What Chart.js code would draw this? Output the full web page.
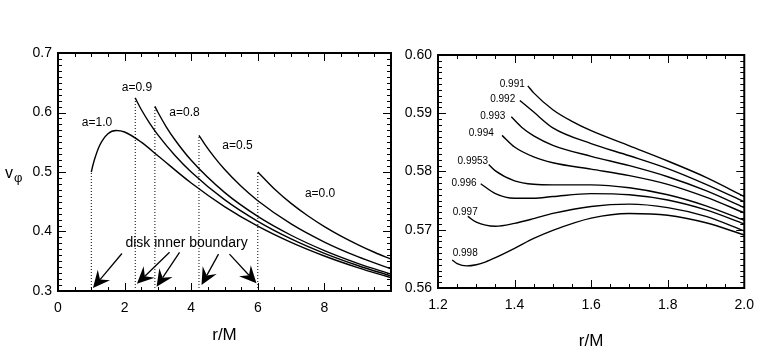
<!DOCTYPE html>
<html>
<head>
<meta charset="utf-8">
<title>v_phi vs r/M</title>
<script src="https://cdn.jsdelivr.net/npm/chart.js@4.4.0/dist/chart.umd.min.js"></script>
<style>
  body { margin: 0; background: #fff; }
  #wrap { position: relative; width: 763px; height: 355px; }
  #left { position: absolute; left: 0; top: 0; }
  #right { position: absolute; left: 380px; top: 0; }
</style>
</head>
<body>
<div id="wrap">
  <canvas id="left" width="400" height="355"></canvas>
  <canvas id="right" width="383" height="355"></canvas>
</div>

<script>
// ---- left panel: v_phi against r/M, one curve per spin, starting at the disk inner edge
var rA10 = [1, 1.02, 1.05, 1.1, 1.25, 1.5, 1.75, 2, 2.5, 3, 4, 5, 6, 7, 8, 9, 10];
var vA10 = [0.5, 0.5049, 0.5117, 0.5218, 0.5446, 0.5643, 0.5698, 0.5672, 0.5502, 0.5274, 0.4815, 0.4419, 0.4090, 0.3817, 0.3588, 0.3393, 0.3225];
var rA09 = [2.32, 2.4, 2.5, 2.75, 3, 3.5, 4, 5, 6, 7, 8, 9, 10];
var vA09 = [0.6246, 0.6155, 0.6050, 0.5822, 0.5624, 0.5287, 0.5001, 0.4535, 0.4171, 0.3876, 0.3633, 0.3429, 0.3253];
var rA08 = [2.91, 3, 3.25, 3.5, 4, 5, 6, 7, 8, 9, 10];
var vA08 = [0.6103, 0.6004, 0.5760, 0.5550, 0.5196, 0.4657, 0.4254, 0.3937, 0.3679, 0.3465, 0.3283];
var rA05 = [4.233, 4.4, 4.7, 5, 5.5, 6, 7, 8, 9, 10];
var vA05 = [0.5617, 0.5474, 0.5246, 0.5045, 0.4759, 0.4517, 0.4127, 0.3823, 0.3578, 0.3374];
var rA00 = [6, 6.5, 7, 7.5, 8, 8.5, 9, 9.5, 10];
var vA00 = [0.5, 0.4714, 0.4472, 0.4264, 0.4082, 0.3922, 0.3780, 0.3651, 0.3536];

var leftLabels = ['a=1.0', 'a=0.9', 'a=0.8', 'a=0.5', 'a=0.0'];
var leftLabelR = [1.17, 2.37, 3.80, 5.39, 7.87];
var leftLabelV = [0.583, 0.642, 0.600, 0.545, 0.463];

// dotted markers at the inner boundaries
var edgeR = [1, 2.32, 2.91, 4.233, 6];
var edgeV = [0.5, 0.6246, 0.6103, 0.5617, 0.5];

// arrows from the "disk inner boundary" note
var arrowTailR = [1.92, 3.35, 3.65, 4.82, 5.15];
var arrowTailV = [0.363, 0.365, 0.365, 0.362, 0.362];
var arrowHeadR = [1.05, 2.37, 2.96, 4.31, 5.96];
var arrowHeadV = [0.305, 0.312, 0.307, 0.310, 0.313];
var noteText = 'disk inner boundary';
var noteR = 3.86, noteV = 0.380;

// ---- right panel: near-extreme spins
var r991 = [1.4346, 1.45, 1.5, 1.55, 1.6, 1.7, 1.8, 1.9, 2.0];
var v991 = [0.5947, 0.5935, 0.5906, 0.5886, 0.5870, 0.5844, 0.5818, 0.5790, 0.5757];
var r992 = [1.4137, 1.45, 1.5, 1.6, 1.7, 1.8, 1.9, 2.0];
var v992 = [0.5922, 0.5902, 0.5875, 0.5848, 0.5827, 0.5805, 0.5778, 0.5748];
var r993 = [1.3914, 1.42, 1.45, 1.5, 1.6, 1.7, 1.8, 1.9, 2.0];
var v993 = [0.5894, 0.5875, 0.5861, 0.5845, 0.5826, 0.5810, 0.5791, 0.5767, 0.5738];
var r994 = [1.3673, 1.4, 1.45, 1.5, 1.6, 1.7, 1.8, 1.9, 2.0];
var v994 = [0.5862, 0.5842, 0.5825, 0.5815, 0.5804, 0.5793, 0.5778, 0.5756, 0.5729];
var r9953 = [1.3325, 1.35, 1.4, 1.45, 1.5, 1.6, 1.7, 1.8, 1.9, 2.0];
var v9953 = [0.5812, 0.5801, 0.5784, 0.5778, 0.5777, 0.5777, 0.5772, 0.5760, 0.5741, 0.5716];
var r996 = [1.3116, 1.35, 1.4, 1.45, 1.5, 1.6, 1.7, 1.8, 1.9, 2.0];
var v996 = [0.5779, 0.5762, 0.5754, 0.5754, 0.5757, 0.5762, 0.5760, 0.5751, 0.5734, 0.5710];
var r997 = [1.2778, 1.3, 1.35, 1.4, 1.45, 1.5, 1.6, 1.7, 1.8, 1.9, 2.0];
var v997 = [0.5723, 0.5713, 0.5706, 0.5711, 0.5719, 0.5728, 0.5740, 0.5744, 0.5738, 0.5723, 0.5698];
var r998 = [1.237, 1.25, 1.275, 1.3, 1.325, 1.35, 1.4, 1.45, 1.5, 1.6, 1.7, 1.8, 1.9, 2.0];
var v998 = [0.5648, 0.5642, 0.5638, 0.5640, 0.5645, 0.5652, 0.5668, 0.5685, 0.5699, 0.5720, 0.5728, 0.5725, 0.5712, 0.5691];

var rightLabels = ['0.991', '0.992', '0.993', '0.994', '0.9953', '0.996', '0.997', '0.998'];
var rightLabelR = [1.394, 1.369, 1.343, 1.313, 1.291, 1.268, 1.271, 1.271];
var rightLabelV = [0.5950, 0.5924, 0.5895, 0.5866, 0.5818, 0.5780, 0.5730, 0.5660];

var FONT = "'Liberation Sans', Arial, Helvetica, sans-serif";
Chart.defaults.font.family = FONT;
Chart.defaults.color = '#000';

function curve(r, v) {
  return {
    data: r.map(function (x, i) { return { x: x, y: v[i] }; }),
    borderColor: '#000', borderWidth: 1.4, pointRadius: 0,
    cubicInterpolationMode: 'monotone', fill: false
  };
}

function dotted(r, v, base) {
  return {
    data: [{ x: r, y: base }, { x: r, y: v }],
    borderColor: '#000', borderWidth: 1, borderDash: [1, 2], pointRadius: 0, fill: false
  };
}

// box with inward ticks on all four sides, IDL style
function boxTicks(chart, xMajor, xMinor, yMajor, yMinor) {
  var ctx = chart.ctx, a = chart.chartArea;
  var sx = chart.scales.x, sy = chart.scales.y;
  ctx.save();
  ctx.setLineDash([]);
  ctx.strokeStyle = '#000';
  ctx.lineWidth = 2;
  ctx.beginPath();
  ctx.moveTo(a.left, a.top);
  ctx.lineTo(a.right, a.top);
  ctx.lineTo(a.right, a.bottom);
  ctx.lineTo(a.left, a.bottom);
  ctx.closePath();
  ctx.stroke();
  ctx.lineWidth = 1;
  ctx.beginPath();
  var n = Math.round((sx.max - sx.min) / xMinor);
  for (var k = 0; k <= n; k++) {
    var val = sx.min + k * xMinor;
    var q = val / xMajor;
    var len = Math.abs(q - Math.round(q)) < 1e-6 ? 8 : 4;
    var px = Math.round(sx.getPixelForValue(val)) + 0.5;
    ctx.moveTo(px, a.bottom); ctx.lineTo(px, a.bottom - len);
    ctx.moveTo(px, a.top); ctx.lineTo(px, a.top + len);
  }
  n = Math.round((sy.max - sy.min) / yMinor);
  for (k = 0; k <= n; k++) {
    val = sy.min + k * yMinor;
    q = val / yMajor;
    len = Math.abs(q - Math.round(q)) < 1e-6 ? 8 : 4;
    var py = Math.round(sy.getPixelForValue(val)) + 0.5;
    ctx.moveTo(a.left, py); ctx.lineTo(a.left + len, py);
    ctx.moveTo(a.right, py); ctx.lineTo(a.right - len, py);
  }
  ctx.stroke();
  ctx.restore();
}

function drawLabels(chart, txt, rs, vs, size) {
  var ctx = chart.ctx, sx = chart.scales.x, sy = chart.scales.y;
  ctx.save();
  ctx.fillStyle = '#000';
  ctx.font = size + 'px ' + FONT;
  ctx.textAlign = 'center';
  ctx.textBaseline = 'middle';
  for (var i = 0; i < txt.length; i++) {
    ctx.fillText(txt[i], sx.getPixelForValue(rs[i]), sy.getPixelForValue(vs[i]));
  }
  ctx.restore();
}

var leftDeco = {
  id: 'leftDeco',
  afterDraw: function (chart) {
    boxTicks(chart, 2, 0.5, 0.1, 0.01);
    drawLabels(chart, leftLabels, leftLabelR, leftLabelV, 12);
    drawLabels(chart, [noteText], [noteR], [noteV], 14);
    var ctx = chart.ctx, sx = chart.scales.x, sy = chart.scales.y;
    ctx.save();
    ctx.strokeStyle = '#000';
    ctx.fillStyle = '#000';
    ctx.lineWidth = 1.3;
    for (var i = 0; i < arrowTailR.length; i++) {
      var x0 = sx.getPixelForValue(arrowTailR[i]), y0 = sy.getPixelForValue(arrowTailV[i]);
      var x1 = sx.getPixelForValue(arrowHeadR[i]), y1 = sy.getPixelForValue(arrowHeadV[i]);
      var ang = Math.atan2(y1 - y0, x1 - x0);
      var c = Math.cos(ang), s = Math.sin(ang);
      var hl = 17, hw = 8, notch = 6;
      var bx = x1 - hl * c, by = y1 - hl * s;
      ctx.beginPath();
      ctx.moveTo(x0, y0); ctx.lineTo(bx + notch * c, by + notch * s);
      ctx.stroke();
      ctx.beginPath();
      ctx.moveTo(x1, y1);
      ctx.lineTo(bx - hw * s, by + hw * c);
      ctx.lineTo(bx + notch * c, by + notch * s);
      ctx.lineTo(bx + hw * s, by - hw * c);
      ctx.closePath();
      ctx.fill();
    }
    // y title: v with subscript phi
    ctx.font = '16px ' + FONT;
    ctx.textAlign = 'left';
    ctx.textBaseline = 'alphabetic';
    ctx.fillText('v', 5, 178);
    ctx.font = '13px ' + FONT;
    ctx.fillText('\u03c6', 14, 182);
    ctx.restore();
  }
};

var rightDeco = {
  id: 'rightDeco',
  afterDraw: function (chart) {
    boxTicks(chart, 0.2, 0.05, 0.01, 0.001);
    drawLabels(chart, rightLabels, rightLabelR, rightLabelV, 10);
  }
};

function axes(xmin, xmax, xstep, xdec, ymin, ymax, ystep, ydec, yw, xh, titlePad, hideLast) {
  return {
    x: {
      type: 'linear', min: xmin, max: xmax,
      grid: { display: false, drawTicks: false }, border: { display: false },
      ticks: {
        stepSize: xstep, padding: 9, font: { size: 14 }, maxRotation: 0,
        callback: function (v) {
          if (hideLast && Math.abs(v - xmax) < 1e-9) return '';
          return Number(v).toFixed(xdec);
        }
      },
      title: { display: true, text: 'r/M', font: { size: 17 }, padding: { top: 0, bottom: titlePad } },
      afterFit: function (s) { s.height = xh; }
    },
    y: {
      type: 'linear', min: ymin, max: ymax,
      grid: { display: false, drawTicks: false }, border: { display: false },
      ticks: {
        stepSize: ystep, padding: 6, font: { size: 14 },
        callback: function (v) { return Number(v).toFixed(ydec); }
      },
      afterFit: function (s) { s.width = yw; }
    }
  };
}

var leftSets = [];
for (var i = 0; i < edgeR.length; i++) leftSets.push(dotted(edgeR[i], edgeV[i], 0.3));
leftSets.push(curve(rA10, vA10), curve(rA09, vA09), curve(rA08, vA08), curve(rA05, vA05), curve(rA00, vA00));

new Chart(document.getElementById('left'), {
  type: 'line',
  data: { datasets: leftSets },
  options: {
    responsive: false, animation: false, devicePixelRatio: 1,
    layout: { padding: { left: 0, top: 53, right: 8, bottom: 0 } },
    plugins: { legend: { display: false }, tooltip: { enabled: false } },
    scales: axes(0, 10, 2, 0, 0.3, 0.7, 0.1, 1, 58, 64, 9, true)
  },
  plugins: [leftDeco]
});

new Chart(document.getElementById('right'), {
  type: 'line',
  data: {
    datasets: [
      curve(r991, v991), curve(r992, v992), curve(r993, v993), curve(r994, v994),
      curve(r9953, v9953), curve(r996, v996), curve(r997, v997), curve(r998, v998)
    ]
  },
  options: {
    responsive: false, animation: false, devicePixelRatio: 1,
    layout: { padding: { left: 0, top: 55, right: 9, bottom: 0 } },
    plugins: { legend: { display: false }, tooltip: { enabled: false } },
    scales: axes(1.2, 2.0, 0.2, 1, 0.56, 0.60, 0.01, 2, 58, 67, 3, false)
  },
  plugins: [rightDeco]
});
</script>
</body>
</html>
